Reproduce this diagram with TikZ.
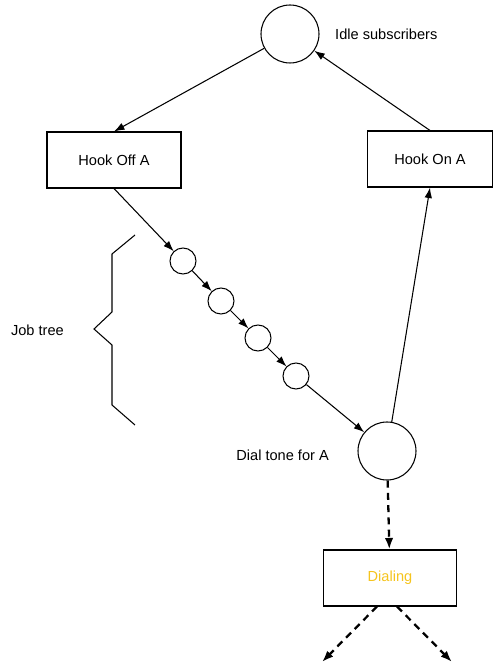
\documentclass[tikz,border=0pt]{standalone}
\usepackage{fontspec}
\setmainfont{Liberation Sans}
\usetikzlibrary{arrows.meta}
\definecolor{dialyellow}{RGB}{245,196,30}
\tikzset{
  state/.style={draw, circle, inner sep=0pt, line width=0.6pt},
  job/.style={draw, circle, inner sep=0pt, minimum size=0.52cm, line width=0.6pt},
  action/.style={draw, rectangle, line width=0.6pt, minimum height=1.12cm},
  flow/.style={line width=0.6pt, -{Latex[length=2.1mm, width=1.5mm]}},
  next/.style={line width=1.3pt, dash pattern=on 4pt off 3pt, -{Latex[length=2.3mm, width=1.7mm]}}
}

\begin{document}
\begin{tikzpicture}[font=\fontsize{8.3}{10}\selectfont]
    \useasboundingbox (0,0) rectangle (9.86,13.30);

    % states
    \node [state, minimum size=1.16cm] (idle) at (5.80,12.62) {};
    \node [anchor=west] (idlelabel) at (6.58,12.62) {Idle subscribers};
    \node [state, minimum size=1.16cm] (dialtone) at (7.74,4.28) {};
    \node [anchor=east] (dialtonelabel) at (6.70,4.20) {Dial tone for A};

    % actions
    \node [action, minimum width=2.68cm] (hookoff) at (2.28,10.10) {Hook Off A};
    \node [action, minimum width=2.50cm] (hookon) at (8.60,10.12) {Hook On A};
    \node [action, minimum width=2.66cm, text=dialyellow] (dialing) at (7.80,1.74) {Dialing};

    % job tree
    \node [job] (job1) at (3.66,8.08) {};
    \node [job] (job2) at (4.42,7.28) {};
    \node [job] (job3) at (5.16,6.54) {};
    \node [job] (job4) at (5.92,5.78) {};
    \draw [line width=0.6pt] (2.70,8.60) -- (2.24,8.22) -- (2.24,7.06) -- (1.88,6.72)
        -- (2.24,6.40) -- (2.24,5.20) -- (2.70,4.80);
    \node [anchor=east] (jobtree) at (1.40,6.70) {Job tree};

    % transitions
    \draw [flow] (idle) -- (hookoff.north);
    \draw [flow] (hookoff.south) -- (job1);
    \draw [flow] (job1) -- (job2);
    \draw [flow] (job2) -- (job3);
    \draw [flow] (job3) -- (job4);
    \draw [flow] (job4) -- (dialtone);
    \draw [flow] (dialtone) -- (hookon.south);
    \draw [flow] (hookon.north) -- (idle);

    % dialing
    \coordinate (outleft) at (6.44,0.06);
    \coordinate (outright) at (9.04,0.06);
    \draw [next] (dialtone) -- (dialing);
    \draw [next] ([xshift=-0.26cm]dialing.south) -- (outleft);
    \draw [next] ([xshift=0.14cm]dialing.south) -- (outright);

\end{tikzpicture}
\end{document}
